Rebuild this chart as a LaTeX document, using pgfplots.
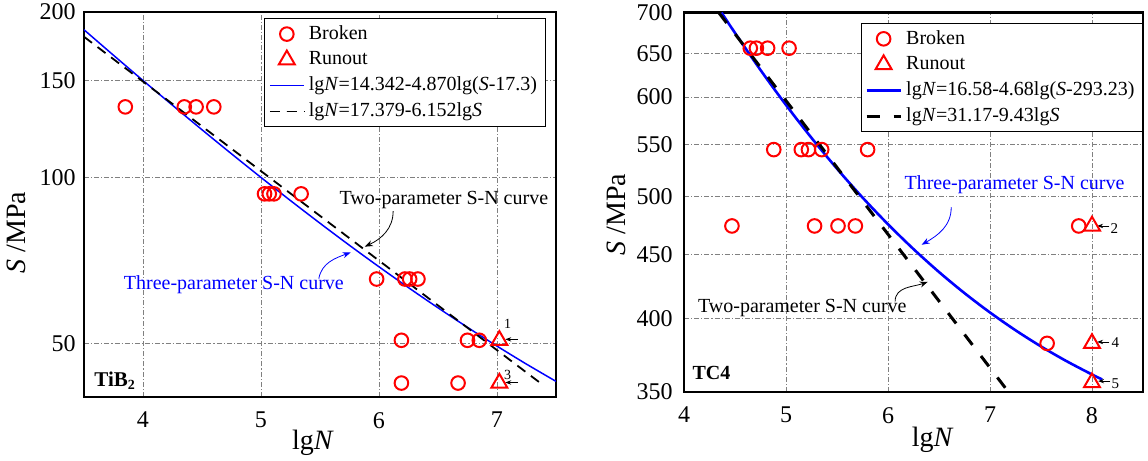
\documentclass[border=0pt]{standalone}
\usepackage{fontspec}
\setmainfont{Liberation Serif}
\usepackage{pgfplots}
\pgfplotsset{compat=1.18}
\usetikzlibrary{arrows.meta}

\pgfplotsset{
  snstyle/.style={
    scale only axis,
    axis line style={line width=1.1pt},
    major tick length=0pt,
    grid=major,
    major grid style={gray, line width=0.45pt, dash pattern=on 2.5pt off 1pt on 0.6pt off 1pt},
    /pgf/number format/assume math mode=true,
    xticklabel style={font=\fontsize{12}{14}\selectfont, inner sep=0pt, anchor=north, yshift=-7.4pt},
    yticklabel style={font=\fontsize{12}{14}\selectfont, inner sep=0pt, anchor=east},
    label style={font=\fontsize{14}{16}\selectfont, inner sep=0pt},
    xlabel={lg\textit{N}},
    ylabel={\textit{S} /MPa},
    legend cell align=left,
    legend style={draw=black, line width=0.5pt, fill=white,
      font=\fontsize{10}{12}\selectfont, inner xsep=2pt, inner ysep=1.5pt, row sep=0.6pt},
  },
  broken/.style={only marks, mark=o, mark size=3.4pt, red, line width=1pt},
  runout/.style={only marks, mark=triangle, mark size=4.6pt, red, line width=1pt},
}

\begin{document}
\begin{tikzpicture}[x=1pt,y=1pt]
\useasboundingbox (0,0) rectangle (574,230.5);

% ---------------- Left panel: TiB2 ----------------
\begin{axis}[snstyle, ymode=log,
  at={(42pt,32pt)}, anchor=south west,
  width=236pt, height=192.5pt,
  xmin=3.5, xmax=7.5, ymin=40, ymax=200,
  xtick={4,5,6,7}, xticklabels={4,5,6,7},
  ytick={50,100,150,200}, yticklabels={50,100,150,200},
  yticklabel style={xshift=-4pt},
  xlabel style={at={(rel axis cs:0.485,-0.0857)}, anchor=north},
  ylabel style={at={(rel axis cs:-0.122,0.427)}, anchor=south},
  legend style={at={(0.978,0.984)}, anchor=north east},
]
\addplot[broken] coordinates {
 (3.85,134.5) (4.35,134.5) (4.45,134.5) (4.60,134.5)
 (5.03,93.5) (5.07,93.5) (5.11,93.5) (5.34,93.5)
 (5.98,65.5) (6.22,65.5) (6.26,65.5) (6.33,65.5)
 (6.19,50.7) (6.75,50.7) (6.85,50.7)
 (6.19,42.4) (6.67,42.4)
};
\addlegendentry{Broken}
\addplot[runout] coordinates {(7.02,50.7) (7.02,42.4)};
\addlegendentry{Runout}
\addplot[blue, line width=0.75pt, smooth] coordinates {
 (3.50,185.67) (3.75,166.90) (4.00,150.20) (4.25,135.42) (4.50,122.24)
 (4.75,110.54) (5.00,100.14) (5.25,90.91) (5.50,82.70) (5.75,75.41)
 (6.00,68.94) (6.25,63.18) (6.50,58.07) (6.75,53.52) (7.00,49.48)
 (7.25,45.89) (7.50,42.70)
};
\addlegendentry{lg\textit{N}=14.342-4.870lg(\textit{S}-17.3)}
\addplot[black, line width=0.9pt, dash pattern=on 5pt off 3.5pt] coordinates {
 (3.50,180.31) (4.00,149.53) (4.50,124.01) (5.00,102.85) (5.50,85.29)
 (6.00,70.74) (6.50,58.66) (7.00,48.65) (7.40,41.89)
};
\addlegendentry{lg\textit{N}=17.379-6.152lg\textit{S}}

\node[font=\fontsize{10}{12}\selectfont] at (axis cs:6.55,91) {Two-parameter S-N curve};
\draw[-{Stealth[length=4pt,width=3pt]}, line width=0.4pt] (axis cs:6.12,87) to[out=-90,in=25] (axis cs:5.88,75);
\node[blue, font=\fontsize{10}{12}\selectfont] at (axis cs:4.77,64) {Three-parameter S-N curve};
\draw[blue, -{Stealth[length=4pt,width=3pt]}, line width=0.4pt] (axis cs:5.49,65.6) to[out=80,in=200] (axis cs:5.76,73.2);

\draw[-{Stealth[length=3pt,width=2.2pt]}, line width=0.4pt] (axis cs:7.18,50.9) -- (axis cs:7.07,50.9);
\node[font=\fontsize{7}{8}\selectfont] at (axis cs:7.09,54.3) {1};
\draw[-{Stealth[length=3pt,width=2.2pt]}, line width=0.4pt] (axis cs:7.18,42.5) -- (axis cs:7.07,42.5);
\node[font=\fontsize{7}{8}\selectfont] at (axis cs:7.09,43.8) {3};

\node[font=\fontsize{10.5}{12}\selectfont\bfseries] at (axis cs:3.76,42.8) {TiB\raisebox{-0.35ex}{\fontsize{7}{8}\selectfont 2}};
\end{axis}

% ---------------- Right panel: TC4 ----------------
\begin{axis}[snstyle, ymode=log,
  axis line style={line width=1.4pt},
  at={(342pt,34.5pt)}, anchor=south west,
  width=229.5pt, height=189.65pt,
  xmin=4, xmax=8.5, ymin=350, ymax=700,
  xtick={4,5,6,7,8}, xticklabels={4,5,6,7,8},
  ytick={350,400,450,500,550,600,650,700},
  yticklabels={350,400,450,500,550,600,650,700},
  yticklabel style={xshift=-5.5pt},
  xlabel style={at={(rel axis cs:0.542,-0.0923)}, anchor=north},
  ylabel style={at={(rel axis cs:-0.1264,0.467)}, anchor=south},
  legend style={at={(1,0.973)}, anchor=north east},
]
\addplot[broken] coordinates {
 (4.65,656) (4.71,656) (4.82,656) (5.03,656)
 (4.88,545) (5.15,545) (5.22,545) (5.35,545) (5.80,545)
 (4.47,474) (5.28,474) (5.51,474) (5.68,474) (7.87,474)
 (7.56,382.5)
};
\addlegendentry{Broken}
\addplot[runout] coordinates {(8.00,474) (8.00,382.5) (8.00,356)};
\addlegendentry{Runout}
\addplot[blue, line width=1.3pt, smooth] coordinates {
 (4.368,700.0) (4.50,674.53) (4.75,630.36) (5.00,591.29) (5.25,556.79)
 (5.50,526.27) (5.75,499.30) (6.00,475.49) (6.25,454.39) (6.50,435.73)
 (6.75,419.25) (7.00,404.66) (7.25,391.77) (7.50,380.36) (7.75,370.27)
 (8.00,361.36) (8.10,358.09)
};
\addlegendentry{lg\textit{N}=16.58-4.68lg(\textit{S}-293.23)}
\addplot[black, line width=1.5pt, dash pattern=on 6.5pt off 7pt] coordinates {
 (4.341,700.0) (7.15,352.6)
};
\addlegendentry{lg\textit{N}=31.17-9.43lg\textit{S}}

\node[blue, font=\fontsize{10}{12}\selectfont] at (axis cs:7.24,511) {Three-parameter S-N curve};
\draw[blue, -{Stealth[length=4pt,width=3pt]}, line width=0.4pt] (axis cs:6.62,490.5) to[out=-90,in=30] (axis cs:6.33,458);
\node[font=\fontsize{10}{12}\selectfont] at (axis cs:5.16,408) {Two-parameter S-N curve};
\draw[-{Stealth[length=4pt,width=3pt]}, line width=0.4pt] (axis cs:6.07,413) to[out=90,in=200] (axis cs:6.39,428);

\draw[-{Stealth[length=3pt,width=2.2pt]}, line width=0.4pt] (axis cs:8.17,474) -- (axis cs:8.05,474);
\node[font=\fontsize{7.5}{8}\selectfont] at (axis cs:8.22,472) {2};
\draw[-{Stealth[length=3pt,width=2.2pt]}, line width=0.4pt] (axis cs:8.17,383.5) -- (axis cs:8.05,383.5);
\node[font=\fontsize{7.5}{8}\selectfont] at (axis cs:8.23,383) {4};
\draw[-{Stealth[length=3pt,width=2.2pt]}, line width=0.4pt] (axis cs:8.18,357) -- (axis cs:8.06,357);
\node[font=\fontsize{7.5}{8}\selectfont] at (axis cs:8.23,355.5) {5};

\node[font=\fontsize{10}{12}\selectfont\bfseries] at (axis cs:4.27,362.5) {TC4};
\end{axis}
\end{tikzpicture}
\end{document}
